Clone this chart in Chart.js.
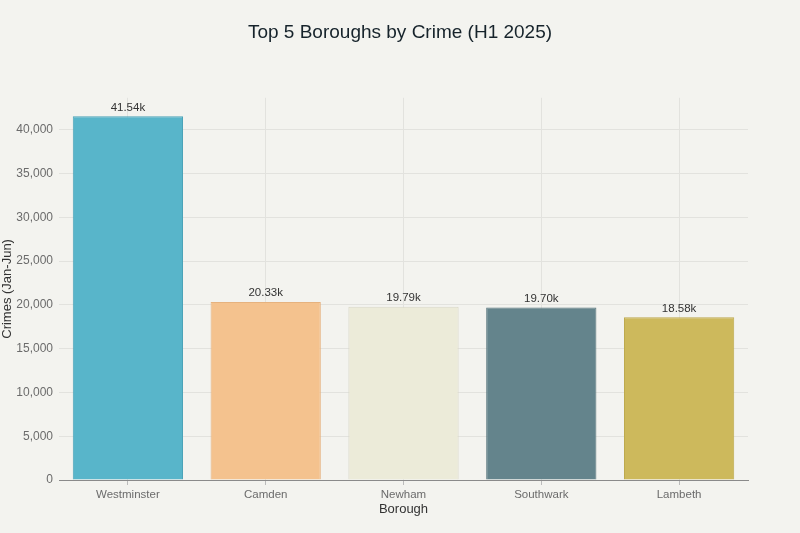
<!DOCTYPE html>
<html>
<head>
<meta charset="utf-8">
<script src="https://cdn.jsdelivr.net/npm/chart.js@4"></script>
<style>
html,body{margin:0;padding:0;background:#F3F3EF;}
#wrap{width:800px;height:533px;}
</style>
</head>
<body>
<div id="wrap"><canvas id="c" width="800" height="533"></canvas></div>
<script>
const categories = ["Westminster", "Camden", "Newham", "Southwark", "Lambeth"];
const crimes = [41540, 20330, 19790, 19700, 18580];
const valueLabels = ["41.54k", "20.33k", "19.79k", "19.70k", "18.58k"];
const yTicks = [0, 5000, 10000, 15000, 20000, 25000, 30000, 35000, 40000];
const barColors = ["#58B5CA", "#F4C28E", "#ECEBD9", "#64848C", "#CDB95C"];
const barBorders = ["#4BA3B8", "#E6B27E", "#D9D8C6", "#56747B", "#BDA94E"];

const FONT = "'Liberation Sans', Arial, sans-serif";

const labelPlugin = {
  id: 'valueLabels',
  afterDatasetsDraw(chart) {
    const ctx = chart.ctx;
    const meta = chart.getDatasetMeta(0);
    ctx.save();
    ctx.font = "11.5px " + FONT;
    ctx.fillStyle = "#333333";
    ctx.textAlign = "center";
    ctx.textBaseline = "bottom";
    meta.data.forEach((bar, i) => {
      ctx.fillText(valueLabels[i], bar.x, bar.y - 3);
    });
    ctx.restore();
  }
};

const bgPlugin = {
  id: 'bg',
  beforeDraw(chart) {
    const ctx = chart.ctx;
    ctx.save();
    ctx.fillStyle = "#F3F3EF";
    ctx.fillRect(0, 0, chart.width, chart.height);
    ctx.restore();
  }
};

new Chart(document.getElementById('c'), {
  type: 'bar',
  data: {
    labels: categories,
    datasets: [{
      data: crimes,
      backgroundColor: barColors,
      borderColor: barBorders,
      borderWidth: 1,
      barPercentage: 0.8,
      categoryPercentage: 1.0
    }]
  },
  options: {
    responsive: false,
    animation: false,
    devicePixelRatio: 1,
    layout: { padding: { left: 0, right: 0, top: 0, bottom: 0 } },
    plugins: {
      legend: { display: false },
      tooltip: { enabled: false },
      title: {
        display: true,
        text: "Top 5 Boroughs by Crime (H1 2025)",
        color: "#16232B",
        font: { family: FONT, size: 19, weight: 'normal' },
        padding: { top: 21, bottom: 54 }
      }
    },
    scales: {
      x: {
        grid: { offset: false, color: "#E2E2DE", drawTicks: true, tickLength: 5, tickColor: "#BBBBBB" },
        border: { color: "#8A8A8A", width: 1 },
        ticks: { color: "#6B6B6B", font: { family: FONT, size: 11.5 }, padding: 3 },
        title: { display: true, text: "Borough", color: "#333333", font: { family: FONT, size: 13 }, padding: { top: 0, bottom: 16 } },
        afterFit(scale) { scale.height = 53; }
      },
      y: {
        min: 0,
        max: 43650,
        grid: { color: "#E2E2DE", drawTicks: false },
        border: { display: false },
        afterBuildTicks(scale) { scale.ticks = yTicks.map(v => ({ value: v })); },
        ticks: {
          color: "#6B6B6B",
          font: { family: FONT, size: 12 },
          padding: 6,
          callback: (v) => Number(v).toLocaleString('en-US')
        },
        title: { display: true, text: "Crimes (Jan-Jun)", color: "#333333", font: { family: FONT, size: 13 }, padding: { top: 0, bottom: 2 } },
        afterFit(scale) { scale.width = 59; }
      },
      yRightSpace: {
        position: 'right',
        display: true,
        min: 0,
        max: 43650,
        grid: { display: false, drawTicks: false },
        border: { display: false },
        ticks: { display: false },
        afterFit(scale) { scale.width = 52; }
      }
    }
  },
  plugins: [bgPlugin, labelPlugin]
});
</script>
</body>
</html>
